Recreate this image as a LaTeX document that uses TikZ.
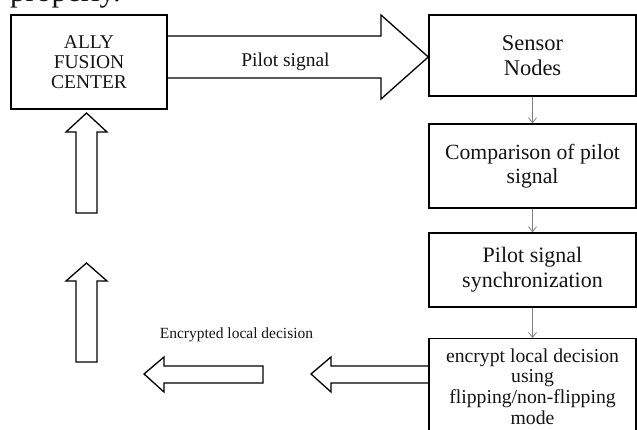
\documentclass[tikz,border=0pt]{standalone}
\usepackage{fontspec}
\setmainfont{Liberation Serif}
\usetikzlibrary{arrows.meta,calc}
\newcommand\fsz[2]{\fontsize{#1pt}{#2pt}\selectfont}
\begin{document}
\begin{tikzpicture}[x=1pt,y=-1pt,
  box/.style={draw, line width=1.4pt, inner sep=0pt, minimum width=207pt, align=center, text=black!92},
  blockarrow/.style={draw, line width=1.3pt, line join=miter},
  link/.style={draw=black!50, line width=0.8pt, -{Straight Barb[length=5pt,width=8pt]}},
  lbl/.style={inner sep=0pt, anchor=base, text=black!92}]
\useasboundingbox (0,0) rectangle (637,430);
\clip (0,0) rectangle (637,430);

% running text of the page above the figure
\node[lbl, anchor=base west, font=\fsz{31}{33}] (ptext) at (10,1.5) {properly.};

% process boxes
\node[box, minimum width=156pt, minimum height=94pt, font=\fsz{19.5}{20}] (afc) at (89,62) {ALLY\\FUSION\\CENTER};
\node[box, minimum height=81pt, font=\fsz{22.5}{25}] (sn) at (532.5,55.5) {Sensor\\Nodes};
\node[box, minimum height=84pt, font=\fsz{21.7}{23.5}] (cmp) at (532.5,166) {Comparison of pilot\\signal};
\node[box, minimum height=74pt, font=\fsz{22}{25}] (syn) at (532.5,270) {Pilot signal\\synchronization};
\node[box, minimum height=130pt, anchor=north] (enc) at (532.5,338) {};
\node[lbl, anchor=center, align=center, font=\fsz{19.7}{20.7}] (enctext) at (532.5,386.5)
  {encrypt local decision\\using\\flipping/non-flipping\\mode};

% thin links down the column
\draw[link] (sn) -- (cmp);
\draw[link] (cmp) -- (syn);
\draw[link] (syn) -- (enc);

% pilot signal block arrow
\draw[blockarrow] (afc.east |- 0,36) -- (381,36) -- (381,15) -- (sn.west |- 0,57)
  -- (381,99) -- (381,78) -- (afc.east |- 0,78);
\node[lbl, font=\fsz{19.5}{20}] (plabel) at (285.5,67) {Pilot signal};

% encrypted decision block arrows (leftwards)
\draw[blockarrow] (enc.west |- 0,366) -- (331,366) -- (331,357) -- (311,374)
  -- (331,392) -- (331,383) -- (enc.west |- 0,383);
\coordinate (lt) at (144,374);
\draw[blockarrow] (263,366) -- (164,366) -- (164,357) -- (lt)
  -- (164,392) -- (164,383) -- (263,383) -- cycle;
\node[lbl, font=\fsz{15.5}{17}] (elabel) at (236.5,338) {Encrypted local decision};

% upward block arrows towards the fusion center
\coordinate (ut) at (86.5,113);
\draw[blockarrow] (76,213) -- (76,132) -- (66,132) -- (ut)
  -- (107,132) -- (97,132) -- (97,213) -- cycle;
\coordinate (lowt) at (86.5,263);
\draw[blockarrow] (76,362) -- (76,281) -- (66,281) -- (lowt)
  -- (107,281) -- (97,281) -- (97,362) -- cycle;
\end{tikzpicture}
\end{document}
